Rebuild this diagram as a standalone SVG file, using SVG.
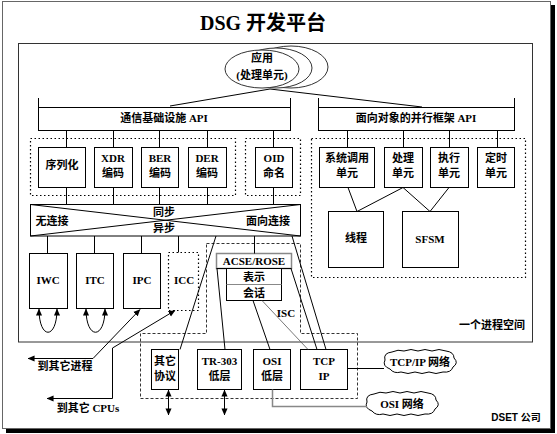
<svg xmlns="http://www.w3.org/2000/svg" width="557" height="434" viewBox="0 0 557 434">
<defs>
<style>
.bx{fill:#fff;stroke:#000;stroke-width:1}
.t{font-family:"Liberation Serif","Noto Sans CJK SC",serif;font-weight:bold;font-size:11px;text-anchor:middle;dominant-baseline:central;fill:#000}
.dot{fill:none;stroke:#000;stroke-width:1.2;stroke-dasharray:1.5 2.5}
.dash{fill:none;stroke:#000;stroke-width:0.8;stroke-dasharray:3 2}
.ln{fill:none;stroke:#000;stroke-width:1}
.gr{fill:none;stroke:#777;stroke-width:1}
.el{fill:#fff;stroke:#333;stroke-width:1}
.cl{fill:#fff;stroke:#000;stroke-width:1}
</style>
<marker id="ah" viewBox="0 0 8 8" refX="7.5" refY="4" markerWidth="7" markerHeight="7" markerUnits="userSpaceOnUse" orient="auto-start-reverse">
<path d="M0,0.5 L8,4 L0,7.5 z" fill="#000"/>
</marker>
<path id="cloud" d="M392,352 q6,-3 12,-1 q7,-3 14,0 q7,-3 14,0 q7,-3 14,0 q8,1 8,7 q5,5 -1,9 q-2,6 -10,5 q-7,3 -14,0 q-7,3 -14,0 q-7,3 -14,0 q-7,2 -11,-3 q-8,-3 -5,-9 q-2,-7 7,-8 z"/>
</defs>

<g id="frame">
<rect x="2.5" y="1.5" width="548" height="427" fill="#fff" stroke="#666"/>
<rect x="551" y="5" width="4" height="428" fill="#000"/>
<rect x="6" y="429" width="549" height="4" fill="#000"/>
<text x="263" y="23" class="t" style="font-size:20px">DSG 开发平台</text>
</g>

<g id="process-space">
<rect x="18.5" y="43.5" width="514" height="298.5" fill="none" stroke="#333"/>
<text x="492" y="325" class="t">一个进程空间</text>
</g>

<g id="app">
<ellipse cx="291" cy="67" rx="37" ry="21" class="el"/>
<ellipse cx="276" cy="68" rx="36" ry="20" class="el"/>
<ellipse cx="262" cy="69" rx="37" ry="19" class="el"/>
<text x="262" y="58" class="t">应用</text>
<text x="262" y="75" class="t">(处理单元)</text>
</g>

<g id="api-comm">
<rect x="38.5" y="107.5" width="252" height="23" class="bx"/>
<path d="M38.5,98 V107.5 M290.5,98 V107.5" class="ln"/>
<text x="164" y="118" class="t">通信基础设施 API</text>
</g>
<g id="api-oo">
<rect x="318.5" y="107.5" width="196" height="23" class="bx"/>
<path d="M318.5,98 V107.5 M514.5,98 V107.5" class="ln"/>
<text x="416" y="118" class="t">面向对象的并行框架 API</text>
</g>

<g id="encode-group"><rect x="30.5" y="138.5" width="205" height="57" class="dot"/></g>
<g id="oid-group"><rect x="245.5" y="138.5" width="55" height="57" class="dot"/></g>
<g id="parallel-group"><rect x="311.5" y="138.5" width="214" height="139" class="dot"/></g>

<g id="serialize"><rect x="38.5" y="147.5" width="47" height="40" class="bx"/><text x="62" y="165" class="t">序列化</text></g>
<g id="xdr"><rect x="94.5" y="147.5" width="38" height="40" class="bx"/><text x="113" y="158" class="t">XDR</text><text x="113" y="173" class="t">编码</text></g>
<g id="ber"><rect x="141.5" y="147.5" width="37" height="40" class="bx"/><text x="160" y="158" class="t">BER</text><text x="160" y="173" class="t">编码</text></g>
<g id="der"><rect x="188.5" y="147.5" width="38" height="40" class="bx"/><text x="207" y="158" class="t">DER</text><text x="207" y="173" class="t">编码</text></g>
<g id="oid"><rect x="255.5" y="147.5" width="37" height="40" class="bx"/><text x="274" y="158" class="t">OID</text><text x="274" y="173" class="t">命名</text></g>

<g id="syscall"><rect x="319.5" y="147.5" width="55" height="40" class="bx"/><text x="347" y="158" class="t">系统调用</text><text x="347" y="173" class="t">单元</text></g>
<g id="process-unit"><rect x="384.5" y="147.5" width="38" height="40" class="bx"/><text x="403" y="158" class="t">处理</text><text x="403" y="173" class="t">单元</text></g>
<g id="exec-unit"><rect x="430.5" y="147.5" width="38" height="40" class="bx"/><text x="449" y="158" class="t">执行</text><text x="449" y="173" class="t">单元</text></g>
<g id="timer-unit"><rect x="477.5" y="147.5" width="37" height="40" class="bx"/><text x="496" y="158" class="t">定时</text><text x="496" y="173" class="t">单元</text></g>
<g id="thread"><rect x="328.5" y="211.5" width="55" height="56" class="bx"/><text x="356" y="238" class="t">线程</text></g>
<g id="sfsm"><rect x="402.5" y="211.5" width="56" height="56" class="bx"/><text x="430" y="239" class="t">SFSM</text></g>

<g id="sync-bar">
<rect x="30.5" y="204.5" width="270" height="31.5" class="bx"/>
<path d="M30.5,204.5 L300.5,236 M30.5,236 L300.5,204.5" class="ln"/>
<text x="52" y="221" class="t">无连接</text>
<text x="268" y="221" class="t">面向连接</text>
<text x="164" y="212" class="t">同步</text>
<text x="164" y="228" class="t">异步</text>
</g>

<g id="iwc"><rect x="29.5" y="253.5" width="38" height="55" class="bx"/><text x="48" y="280" class="t">IWC</text></g>
<g id="itc"><rect x="76.5" y="253.5" width="37" height="55" class="bx"/><text x="95" y="280" class="t">ITC</text></g>
<g id="ipc"><rect x="123.5" y="253.5" width="37" height="55" class="bx"/><text x="142" y="280" class="t">IPC</text></g>
<g id="icc"><rect x="168.5" y="252.5" width="30" height="58" class="dot"/><text x="184" y="280" class="t">ICC</text></g>

<g id="isc-region">
<path d="M206.5,243.5 H300.5 V333.5 H357.5 V398.5 H140.5 V333.5 H206.5 Z" class="dash"/>
<text x="286" y="313" class="t">ISC</text>
</g>

<g id="acse">
<rect x="216.5" y="253.5" width="75" height="15" fill="#fff" stroke="#888" stroke-width="1.5"/>
<text x="254" y="261" class="t">ACSE/ROSE</text>
</g>
<g id="pres-session">
<rect x="226.5" y="268.5" width="55" height="32" class="bx"/>
<path d="M216.5,268.5 H291.5" class="ln"/>
<path d="M226.5,284.5 H281.5" stroke="#888" stroke-width="1.2"/>
<text x="254" y="277" class="t">表示</text>
<text x="254" y="293" class="t">会话</text>
</g>

<g id="other-proto"><rect x="151.5" y="349.5" width="27" height="40" class="bx"/><text x="165" y="361" class="t">其它</text><text x="165" y="376" class="t">协议</text></g>
<g id="tr303"><rect x="197.5" y="349.5" width="44" height="40" class="bx"/><text x="219.5" y="361" class="t">TR-303</text><text x="219.5" y="376" class="t">低层</text></g>
<g id="osi-low"><rect x="253.5" y="349.5" width="37" height="40" class="bx"/><text x="272" y="361" class="t">OSI</text><text x="272" y="376" class="t">低层</text></g>
<g id="tcpip"><rect x="300.5" y="349.5" width="47" height="40" class="bx"/><text x="324" y="361" class="t">TCP</text><text x="324" y="376" class="t">IP</text></g>

<g id="tcpip-net"><use href="#cloud" class="cl"/><text x="420" y="362" class="t">TCP/IP 网络</text></g>
<g id="osi-net"><use href="#cloud" class="cl" transform="translate(-18,42)"/><text x="402" y="404" class="t">OSI 网络</text></g>

<g id="labels">
<text x="65" y="366" class="t">到其它进程</text>
<text x="88" y="408" class="t">到其它 CPUs</text>
<text x="516" y="417" class="t" style="font-size:10px;font-family:'Liberation Sans','Noto Sans CJK SC',sans-serif">DSET 公司</text>
</g>

<g id="connectors">
<path d="M270,89 L170,106 M270,89 L422,107" class="ln"/>
<path d="M66.5,130.5 V147.5 M113.5,130.5 V147.5 M159.5,130.5 V147.5 M207.5,130.5 V147.5 M273.5,130.5 V147.5" class="ln"/>
<path d="M347.5,130.5 V147.5 M403.5,130.5 V147.5 M449.5,130.5 V147.5 M497.5,130.5 V147.5" class="ln"/>
<path d="M66.5,187.5 V204.5 M113.5,187.5 V204.5 M159.5,187.5 V204.5 M207.5,187.5 V204.5 M273.5,187.5 V204.5" class="ln"/>
<path d="M348,187.5 L357,211.5 M403,187.5 L357,211.5 M403,187.5 L430,211.5 M449,187.5 L430,211.5" class="ln"/>
<path d="M47.5,236 V253.5 M94.5,236 V253.5 M141.5,236 V253.5 M178.5,236 V252.5 M254.5,236 V253.5" class="ln"/>
<path d="M216,236 L180,349.5 M292,236 L326,349.5 M217,268.5 L225,349.5 M291,268.5 L317,349.5 M253,300.5 L270,349.5" class="ln"/>
<path d="M262,300.5 L308,349.5" stroke="#555" stroke-width="0.8" fill="none"/>
<path d="M347.5,368.5 H384" class="ln"/>
<path d="M272.5,389.5 V406.5 H367" stroke="#888" stroke-width="1.5" fill="none"/>
<path d="M39,309 C39,340 57,340 57,309" class="ln" marker-start="url(#ah)" marker-end="url(#ah)"/>
<path d="M86,309 C86,340 105,340 105,309" class="ln" marker-start="url(#ah)" marker-end="url(#ah)"/>
<path d="M28,358.5 H93 L140,309.5" class="ln" marker-start="url(#ah)" marker-end="url(#ah)"/>
<path d="M47,398.5 H112.5 V348 L175,310.5" class="ln" marker-start="url(#ah)" marker-end="url(#ah)"/>
<path d="M168.5,390 V415" class="ln" marker-start="url(#ah)" marker-end="url(#ah)"/>
<path d="M224.5,390 V415" class="ln" marker-start="url(#ah)" marker-end="url(#ah)"/>
</g>
</svg>
